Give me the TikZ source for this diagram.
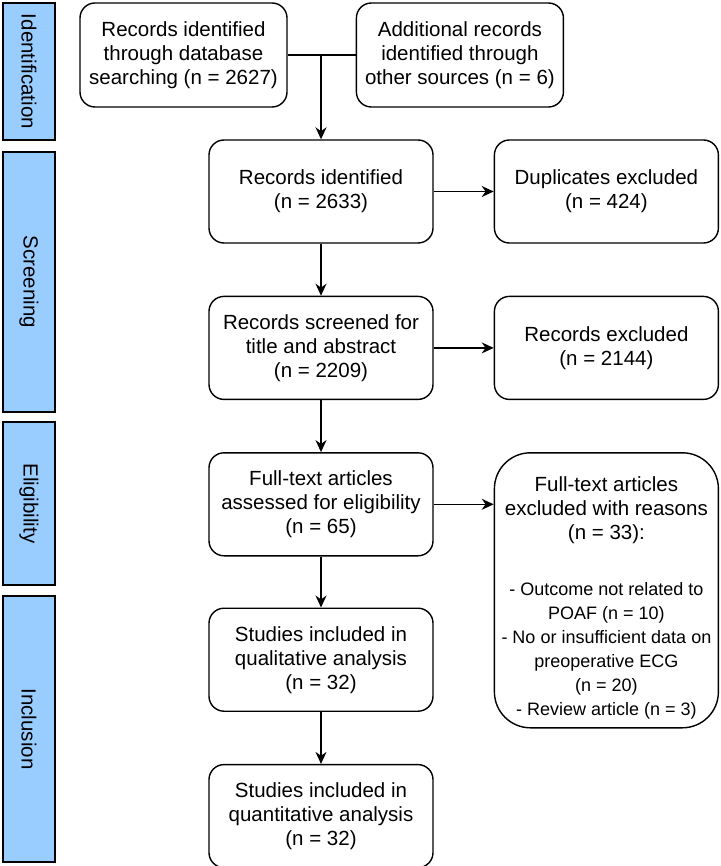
\documentclass[tikz,border=0pt]{standalone}
\usepackage{fontspec}
\setmainfont{Liberation Sans}
\usetikzlibrary{arrows.meta, positioning}
\definecolor{stageblue}{RGB}{153,204,255}

\begin{document}
\begin{tikzpicture}[>={Stealth[length=12pt,width=11pt]}, line width=1.4pt, node distance=52pt,
  box/.style={draw, rounded corners=15pt, align=center, inner sep=0pt,
    minimum width=224pt, minimum height=103pt, font=\fontsize{20.5}{24}\selectfont},
  stage/.style={draw, fill=stageblue, rotate=-90, inner sep=0pt,
    minimum height=52pt, font=\fontsize{20.5}{24}\selectfont}]

\useasboundingbox (0,0) rectangle (720pt,-866pt);

% define the stages on the left
  \node[stage, minimum width=137pt] (idbar)   at (29pt,-71.5pt) {Identification};
  \node[stage, minimum width=260pt] (scrbar)  at (29pt,-282pt)  {Screening};
  \node[stage, minimum width=163pt] (elibar)  at (29pt,-503.5pt) {Eligibility};
  \node[stage, minimum width=266pt] (incbar)  at (29pt,-729pt)  {Inclusion};

% define the boxes
  \node[box, minimum width=207pt, minimum height=104pt] (db)  at (183.5pt,-55pt)
{Records identified\\through database\\searching (n = 2627)};
  \node[box, minimum width=207pt, minimum height=104pt] (other) [right=68pt of db]
{Additional records\\identified through\\other sources (n = 6)};
  \node[box]  (ident)  at (321pt,-191.5pt)
{Records identified\\(n = 2633)};
  \node[box]  (dup)    [right=60pt of ident]
{Duplicates excluded\\(n = 424)};
  \node[box]  (screen) [below=52pt of ident]
{Records screened for\\title and abstract\\(n = 2209)};
  \node[box]  (excl)   [right=60pt of screen]
{Records excluded\\(n = 2144)};
  \node[box]  (full)   [below=52pt of screen]
{Full-text articles\\assessed for eligibility\\(n = 65)};
  \node[box, rounded corners=36pt, minimum height=275pt] (fullex) [right=60pt of full.north east, anchor=north west]
{\rule{0pt}{30pt}Full-text articles\\excluded with reasons\\(n = 33):\\[32pt]
{\fontsize{18}{23}\selectfont - Outcome not related to}\\
{\fontsize{18}{23}\selectfont POAF (n = 10)}\\
{\fontsize{18}{23}\selectfont - No or insufficient data on}\\
{\fontsize{18}{23}\selectfont preoperative ECG}\\
{\fontsize{18}{23}\selectfont (n = 20)}\\
{\fontsize{18}{23}\selectfont - Review article (n = 3)}};
  \node[box]  (qual)   [below=51pt of full]
{Studies included in\\qualitative analysis\\(n = 32)};
  \node[box]  (quant)  [below=52pt of qual]
{Studies included in\\quantitative analysis\\(n = 32)};

% define the links
  \coordinate (join) at (db.east -| ident.north);
  \draw (db) -- (other);
  \draw[->] (join) -- (ident);
  \path[->] (ident)  edge (dup)
                     edge (screen)
            (screen) edge (excl)
                     edge (full)
            (full)   edge (fullex.west |- full)
                     edge (qual)
            (qual)   edge (quant);

\end{tikzpicture}
\end{document}
